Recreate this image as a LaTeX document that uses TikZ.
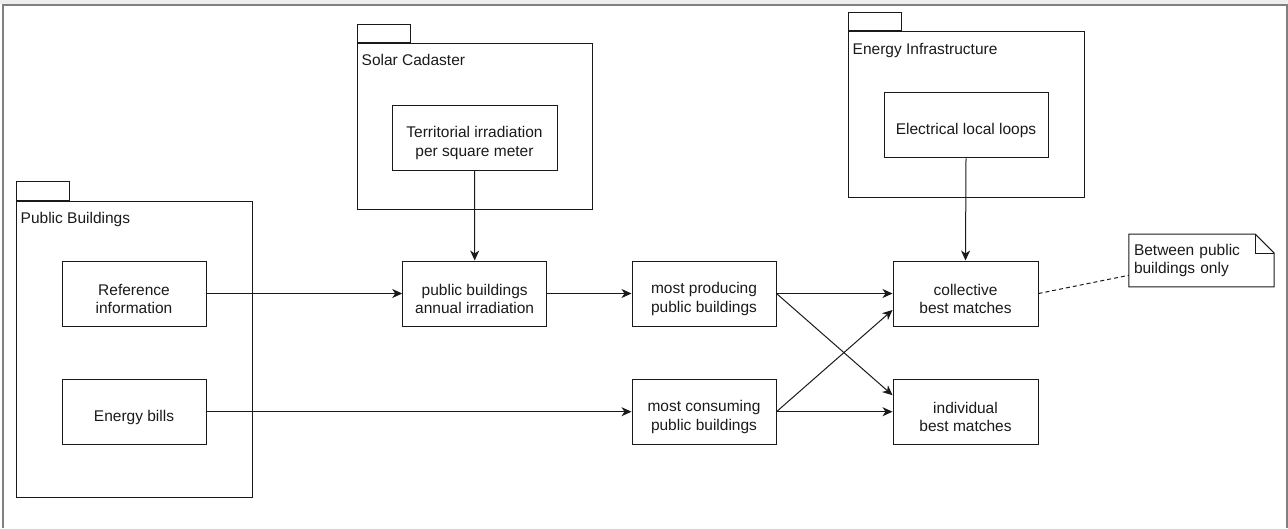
\documentclass[tikz,border=0pt]{standalone}
\usepackage{fontspec}
\setmainfont{Liberation Sans}
\usetikzlibrary{arrows.meta,calc}
\definecolor{framegray}{HTML}{808080}
\definecolor{bandgray}{HTML}{EEEEEE}
\definecolor{ink}{HTML}{1A1A1A}
\begin{document}
\begin{tikzpicture}[x=1pt,y=-1pt,
  every node/.style={font=\fontsize{15.5}{18.6}\selectfont, text=ink},
  box/.style={draw=ink, line width=1pt, minimum width=144pt, minimum height=65pt, inner sep=0pt},
  boxtext/.style={align=center, yshift=-5.3pt, inner sep=0pt},
  pkg/.style={draw=ink, line width=1pt, inner sep=0pt, anchor=north west},
  pkgtab/.style={draw=ink, line width=1pt, inner sep=0pt, anchor=south west, minimum width=52.5pt, minimum height=18.5pt},
  pkglabel/.style={anchor=base west, inner sep=0pt},
  arr/.style={draw=ink, line width=1pt, -{Stealth[length=10pt,width=9pt,inset=3pt]}},
  notelink/.style={draw=ink, line width=1pt, dash pattern=on 4pt off 3pt}
]
\useasboundingbox (0,0) rectangle (1288,528);
% frame
\fill[bandgray] (0,0) rectangle (1288,4);
\draw[framegray, line width=1.6pt] (3,528) -- (3,4.8) -- (1287.2,4.8) -- (1287.2,528);

% packages
\node[pkg, minimum width=236pt, minimum height=296.3pt] (pb) at (16,200.7) {};
\node[pkgtab] (pbtab) at (pb.north west) {};
\node[pkglabel] (pblabel) at (20.5,223.3) {Public Buildings};

\node[pkg, minimum width=235pt, minimum height=166pt] (sc) at (357,43.3) {};
\node[pkgtab] (sctab) at (sc.north west) {};
\node[pkglabel] (sclabel) at (361.5,65.7) {Solar Cadaster};

\node[pkg, minimum width=236pt, minimum height=166pt] (ei) at (848,31) {};
\node[pkgtab] (eitab) at (ei.north west) {};
\node[pkglabel] (eilabel) at (852.5,54) {Energy Infrastructure};

% boxes
\node[box, label={[boxtext]center:Reference\\information}] (ref) at (134,293.5) {};
\node[box, label={[boxtext]center:Energy bills}] (bills) at (134,411.7) {};
\node[box, minimum width=165pt, label={[boxtext]center:Territorial irradiation\\per square meter}] (terr) at (474.5,137.5) {};
\node[box, label={[boxtext]center:public buildings\\annual irradiation}] (annual) at (474.7,293.5) {};
\node[box, label={[boxtext]center:most producing\\public buildings}] (prod) at (704,293.5) {};
\node[box, label={[boxtext]center:most consuming\\public buildings}] (cons) at (704,411.7) {};
\node[box, minimum width=164pt, label={[boxtext]center:Electrical local loops}] (elec) at (966,125.3) {};
\node[box, minimum width=145pt, label={[boxtext]center:collective\\best matches}] (coll) at (965.5,293.5) {};
\node[box, minimum width=145pt, label={[boxtext]center:individual\\best matches}] (indiv) at (965.5,411.7) {};

% note
\node[minimum width=145pt, minimum height=52.4pt, text width=135pt, inner xsep=5pt, inner ysep=0pt, align=left] (note) at (1201.5,260.5) {Between public\\buildings only};
\draw[ink, line width=1pt] (note.north west) -- ($(note.north east)+(-19,0)$) -- ($(note.north east)+(0,19)$) -- (note.south east) -- (note.south west) -- cycle;
\draw[ink, line width=1pt] ($(note.north east)+(-19,0)$) -- ($(note.north east)+(-19,19)$) -- ($(note.north east)+(0,19)$);

% connectors
\draw[arr] (terr.south) -- (annual.north);
\draw[arr] (ref.east) -- (annual.west);
\draw[arr] (annual.east) -- (prod.west);
\draw[arr] (bills.east) -- (cons.west);
\draw[arr] (elec.south) -- (coll.north);
\draw[arr] (prod.east) -- (coll.west);
\draw[arr] (prod.east) -- ($(indiv.north west)!0.25!(indiv.south west)$);
\draw[arr] (cons.east) -- ($(coll.north west)!0.75!(coll.south west)$);
\draw[arr] (cons.east) -- (indiv.west);
\draw[notelink] (coll.east) -- ($(note.north west)!0.78!(note.south west)$);
\end{tikzpicture}
\end{document}
